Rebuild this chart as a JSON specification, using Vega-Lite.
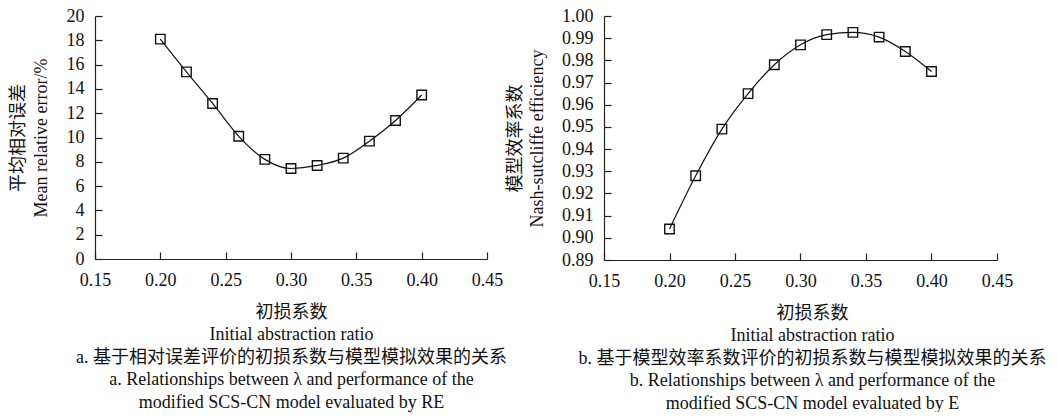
{
  "$schema": "https://vega.github.io/schema/vega-lite/v6.json",
  "background": "white",
  "padding": {"left": 9, "top": 7, "right": 0, "bottom": 0},
  "autosize": {"type": "pad"},
  "bounds": "flush",
  "spacing": 117,
  "datasets": {
    "re": [
      {"ratio": 0.20, "value": 18.1},
      {"ratio": 0.22, "value": 15.4},
      {"ratio": 0.24, "value": 12.8},
      {"ratio": 0.26, "value": 10.1},
      {"ratio": 0.28, "value": 8.2},
      {"ratio": 0.30, "value": 7.45},
      {"ratio": 0.32, "value": 7.7},
      {"ratio": 0.34, "value": 8.3},
      {"ratio": 0.36, "value": 9.7},
      {"ratio": 0.38, "value": 11.4},
      {"ratio": 0.40, "value": 13.5}
    ],
    "nse": [
      {"ratio": 0.20, "value": 0.904},
      {"ratio": 0.22, "value": 0.928},
      {"ratio": 0.24, "value": 0.949},
      {"ratio": 0.26, "value": 0.965},
      {"ratio": 0.28, "value": 0.978},
      {"ratio": 0.30, "value": 0.987},
      {"ratio": 0.32, "value": 0.9916},
      {"ratio": 0.34, "value": 0.9926},
      {"ratio": 0.36, "value": 0.9905},
      {"ratio": 0.38, "value": 0.984},
      {"ratio": 0.40, "value": 0.975}
    ]
  },
  "config": {
    "view": {"stroke": null},
    "font": "Liberation Serif, Noto Sans CJK SC",
    "axis": {
      "grid": false,
      "domainColor": "#222",
      "domainWidth": 1.2,
      "tickColor": "#222",
      "tickWidth": 1.2,
      "tickSize": -7,
      "labelOverlap": false,
      "labelFlush": false,
      "labelColor": "#111",
      "titleColor": "#111",
      "labelFont": "Liberation Serif, Noto Sans CJK SC",
      "titleFont": "Liberation Serif, Noto Sans CJK SC",
      "labelFontSize": 18,
      "titleFontSize": 18,
      "titleFontWeight": "normal",
      "titleLineHeight": 22.5
    }
  },
  "hconcat": [
    {
      "width": 392,
      "height": 243,
      "data": {"name": "re"},
      "encoding": {
        "x": {
          "field": "ratio", "type": "quantitative",
          "scale": {"domain": [0.15, 0.45], "nice": false, "zero": false},
          "axis": {
            "values": [0.15, 0.20, 0.25, 0.30, 0.35, 0.40, 0.45],
            "format": ".2f",
            "labelOverlap": false,
            "labelFlush": false,
            "labelPadding": 19,
            "titlePadding": 14,
            "title": ["初损系数", "Initial abstraction ratio", "a. 基于相对误差评价的初损系数与模型模拟效果的关系", "a. Relationships between λ and performance of the", "modified SCS-CN model evaluated by RE"]
          }
        },
        "y": {
          "field": "value", "type": "quantitative",
          "scale": {"domain": [0, 20], "nice": false},
          "axis": {
            "values": [0, 2, 4, 6, 8, 10, 12, 14, 16, 18, 20],
            "labelOverlap": false,
            "labelFlush": false,
            "labelPadding": 18,
            "titlePadding": 16,
            "title": ["平均相对误差", "Mean relative error/%"]
          }
        }
      },
      "layer": [
        {"mark": {"type": "line", "interpolate": "monotone", "color": "#111", "strokeWidth": 1.2}},
        {"mark": {"type": "point", "shape": "square", "filled": false, "color": "#111", "size": 90, "strokeWidth": 1.4, "opacity": 1}}
      ]
    },
    {
      "width": 393,
      "height": 244,
      "data": {"name": "nse"},
      "encoding": {
        "x": {
          "field": "ratio", "type": "quantitative",
          "scale": {"domain": [0.15, 0.45], "nice": false, "zero": false},
          "axis": {
            "values": [0.15, 0.20, 0.25, 0.30, 0.35, 0.40, 0.45],
            "format": ".2f",
            "labelOverlap": false,
            "labelFlush": false,
            "labelPadding": 19,
            "titlePadding": 14,
            "titleX": 208,
            "title": ["初损系数", "Initial abstraction ratio", "b. 基于模型效率系数评价的初损系数与模型模拟效果的关系", "b. Relationships between λ and performance of the", "modified SCS-CN model evaluated by E"]
          }
        },
        "y": {
          "field": "value", "type": "quantitative",
          "scale": {"domain": [0.89, 1.0], "nice": false, "zero": false},
          "axis": {
            "values": [0.89, 0.90, 0.91, 0.92, 0.93, 0.94, 0.95, 0.96, 0.97, 0.98, 0.99, 1.00],
            "format": ".2f",
            "labelOverlap": false,
            "labelFlush": false,
            "labelPadding": 18,
            "titlePadding": 15,
            "title": ["模型效率系数", "Nash-sutcliffe efficiency"]
          }
        }
      },
      "layer": [
        {"mark": {"type": "line", "interpolate": "monotone", "color": "#111", "strokeWidth": 1.2}},
        {"mark": {"type": "point", "shape": "square", "filled": false, "color": "#111", "size": 90, "strokeWidth": 1.4, "opacity": 1}}
      ]
    }
  ]
}
